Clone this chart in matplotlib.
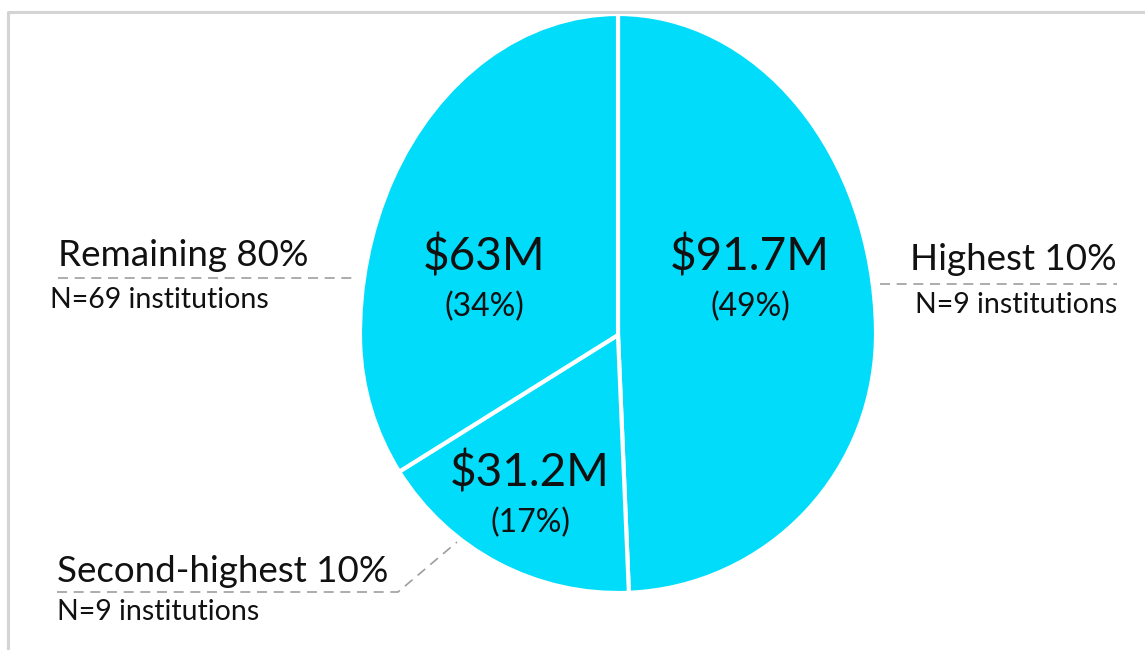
import matplotlib.pyplot as plt
from matplotlib.lines import Line2D
from matplotlib.patches import PathPatch
from matplotlib.path import Path

# data
groups = ['Highest 10%', 'Second-highest 10%', 'Remaining 80%']
amounts = [91.7, 31.2, 63.0]          # $M
amount_labels = ['$91.7M', '$31.2M', '$63M']
shares = [49, 17, 34]                  # %
n_inst = [9, 9, 69]

W, H = 1145, 650
cyan = '#00DCF9'
grey = '#9E9E9E'
plt.rcParams['font.family'] = ['Lato', 'DejaVu Sans']

def Y(y):
    # pixel row (from top) -> data y
    return H - y

fig = plt.figure(figsize=(W / 100, H / 100), dpi=100)
ax = fig.add_axes([0, 0, 1, 1])

cx, cy, r = 618, Y(335), 258
wedges, _ = ax.pie(amounts, colors=[cyan] * 3, startangle=90, counterclock=False,
                   center=(cx, cy), radius=r)
# the original pie is taller above its centre than below -> stretch upper half
k_up = (335 - 14) / r
for w in wedges:
    p = w.get_path()
    v = p.vertices.copy()
    up = v[:, 1] > cy
    v[up, 1] = cy + (v[up, 1] - cy) * k_up
    ax.add_patch(PathPatch(Path(v, p.codes), facecolor=cyan, edgecolor='white', lw=3))
    w.remove()

ax.set_xlim(0, W)
ax.set_ylim(0, H)
ax.set_aspect('equal')
ax.axis('off')

# frame
ax.add_line(Line2D([8, 8, W + 5], [Y(H + 5), Y(12), Y(12)], color='#D4D4D4', lw=2.2, zorder=5))

# values inside slices
val_pos = [(750, 270, 316), (530, 486, 532), (484, 270, 316)]
for (x, yb, yp), lab, s in zip(val_pos, amount_labels, shares):
    ax.text(x, Y(yb), lab, ha='center', va='baseline', fontsize=33, color='#111111')
    ax.text(x, Y(yp), f'({s}%)', ha='center', va='baseline', fontsize=23, color='#111111')

# group labels + leader lines
dash = dict(color=grey, lw=1.2, ls=(0, (6, 4)))

# Highest 10%
ax.text(1117, Y(270), groups[0], ha='right', va='baseline', fontsize=26.5, color='#111111')
ax.text(1117, Y(313), f'N={n_inst[0]} institutions', ha='right', va='baseline', fontsize=20.5, color='#111111')
ax.plot([880, 1117], [Y(284), Y(284)], **dash)

# Remaining 80%
ax.text(58, Y(266), groups[2], ha='left', va='baseline', fontsize=26.5, color='#111111')
ax.text(50, Y(308), f'N={n_inst[2]} institutions', ha='left', va='baseline', fontsize=20.5, color='#111111')
ax.plot([58, 358], [Y(278), Y(278)], **dash)

# Second-highest 10%
ax.text(57, Y(582), groups[1], ha='left', va='baseline', fontsize=26.5, color='#111111')
ax.text(57, Y(620), f'N={n_inst[1]} institutions', ha='left', va='baseline', fontsize=20.5, color='#111111')
ax.plot([57, 398, 457], [Y(592), Y(592), Y(542)], **dash)

fig.savefig('out.png', dpi=100)
